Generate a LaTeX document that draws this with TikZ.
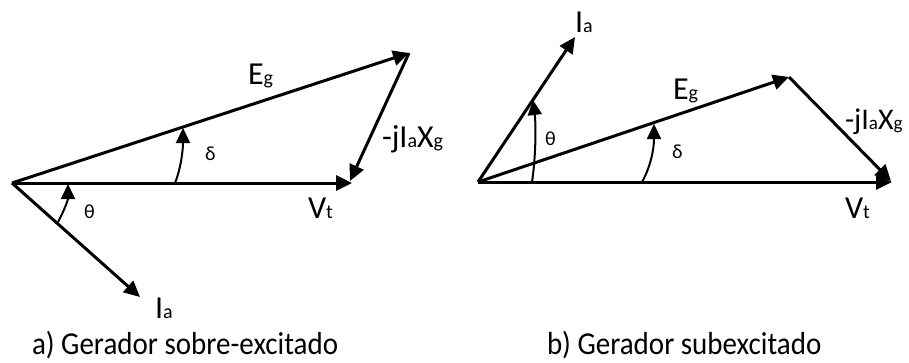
\documentclass[tikz,border=0pt]{standalone}
\usepackage{fontspec}
\usepackage{graphicx}
\setmainfont{Carlito}
\usetikzlibrary{arrows.meta}
\newcommand{\lb}[2]{\fontsize{32}{32}\selectfont #1{\fontsize{20}{20}\selectfont #2}}
\newcommand{\lbs}[2]{\fontsize{30}{30}\selectfont #1{\fontsize{19}{19}\selectfont #2}}
\newcommand{\gk}[1]{{\fontsize{20}{20}\selectfont #1}}
\newcommand{\capt}[1]{\scalebox{1}[1.1]{\fontsize{29}{29}\selectfont #1}}
\begin{document}
\begin{tikzpicture}[x=1pt,y=-1pt,
  vec/.style={line width=3pt,-{Triangle[length=16pt,width=15pt]}},
  ang/.style={line width=2pt,-{Triangle[length=15pt,width=14pt]}},
  lab/.style={anchor=base west,inner sep=0pt,outer sep=0pt}]
\useasboundingbox (0,0) rectangle (909,362);
% left diagram
\coordinate (O1) at (12,183);
\coordinate (V1) at (352,183);
\coordinate (E1) at (409,53);
\coordinate (X1) at (350,181);
\coordinate (I1) at (140,297);
\coordinate (t1a) at (58,222);
\coordinate (t1b) at (68,184);
\coordinate (d1a) at (175,183);
\coordinate (d1b) at (183,128);
\draw[vec] (O1) -- (V1);
\draw[vec] (O1) -- (E1);
\draw[vec] (E1) -- (X1);
\draw[vec] (O1) -- (I1);
\draw[ang] (t1a) .. controls (64,211) and (68,200) .. (t1b);
\draw[ang] (d1a) .. controls (181,168) and (183,150) .. (d1b);
\node[lab] (lE1) at (248,84) {\lb{E}{g}};
\node[lab] (lV1) at (308,218) {\lb{V}{t}};
\node[lab] (lX1) at (382,147) {\lb{-jI}{a}\lb{X}{g}};
\node[lab] (lI1) at (155,318) {\lb{I}{a}};
\node[lab] (lt1) at (84,218) {\gk{θ}};
\node[lab] (ld1) at (205,160) {\gk{δ}};
% right diagram
\coordinate (O2) at (478,182);
\coordinate (V2) at (892,182);
\coordinate (E2) at (789,77);
\coordinate (X2) at (891,181);
\coordinate (I2) at (575,37);
\coordinate (t2a) at (532,182);
\coordinate (t2b) at (533,100);
\coordinate (d2a) at (642,182);
\coordinate (d2b) at (654,124);
\draw[vec] (O2) -- (V2);
\draw[vec] (O2) -- (E2);
\draw[vec] (E2) -- (X2);
\draw[vec] (O2) -- (I2);
\draw[ang] (t2a) .. controls (536,155) and (536,125) .. (t2b);
\draw[ang] (d2a) .. controls (650,168) and (654,150) .. (d2b);
\node[lab] (lE2) at (673,99) {\lb{E}{g}};
\node[lab] (lV2) at (845,218) {\lb{V}{t}};
\node[lab] (lX2) at (845,129) {\lbs{-jI}{a}\lbs{X}{g}};
\node[lab] (lI2) at (575,32) {\lb{I}{a}};
\node[lab] (lt2) at (545,145) {\gk{θ}};
\node[lab] (ld2) at (672,158) {\gk{δ}};
% captions
\node[lab] (ca) at (32,354) {\capt{a) Gerador sobre-excitado}};
\node[lab] (cb) at (547,354) {\capt{b) Gerador subexcitado}};
\end{tikzpicture}
\end{document}
